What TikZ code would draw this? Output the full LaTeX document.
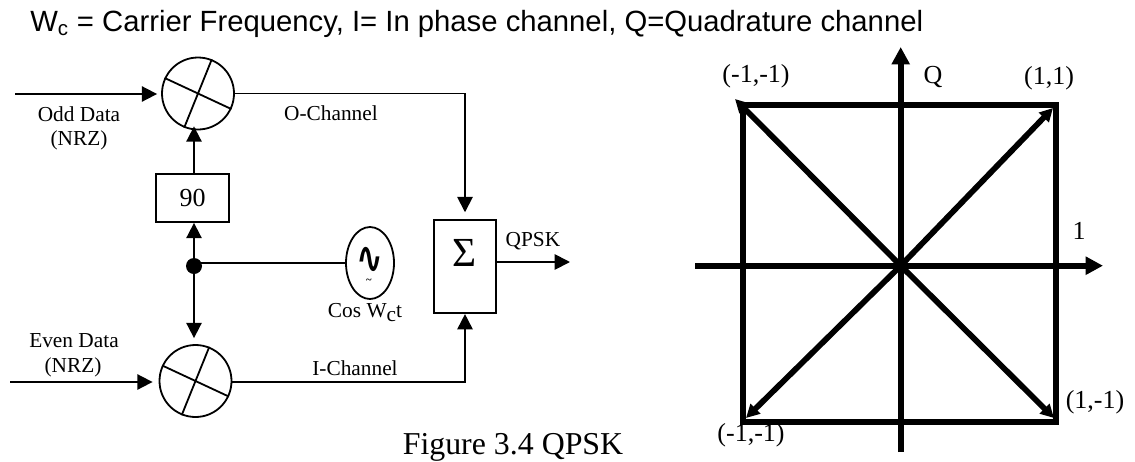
\documentclass[tikz,border=0pt]{standalone}
\usepackage{fontspec}
\setmainfont{Liberation Serif}
\newfontfamily\headfont{Liberation Sans}
\newfontfamily\symfont{DejaVu Sans}
\usetikzlibrary{arrows.meta, shapes.geometric}
\tikzset{
    thinline/.style={line width=1.35pt},
    thickline/.style={line width=4.4pt},
    arrowthin/.style={thinline, -{Triangle[length=11.5pt, width=11.5pt]}},
    arrowthick/.style={thickline, -{Triangle[length=13pt, width=13pt]}},
    arrowdiag/.style={line width=4.3pt, -{Triangle[length=10pt, width=10pt]}},
    mixer/.style={circle, draw=black, thinline, fill=white, inner sep=0pt, minimum size=54pt},
    blockbox/.style={rectangle, draw=black, thinline, inner sep=0pt},
    small/.style={inner sep=0pt, font=\fontsize{16}{19}\selectfont},
    big/.style={inner sep=0pt, font=\fontsize{19.5}{23}\selectfont}
}
\begin{document}
\begin{tikzpicture}[x=0.75pt, y=-0.75pt]
    \useasboundingbox (0, 0) rectangle (1135, 461);

    \node[inner sep=0pt, anchor=base west, font=\headfont\fontsize{21.95}{26}\selectfont] (title) at (30, 31) {W\textsubscript{c} = Carrier Frequency, I= In phase channel, Q=Quadrature channel};

    % left block diagram
    \node[mixer] (mOdd) at (198, 93.5) {};
    \node[mixer] (mEven) at (195.5, 381) {};
    \node[blockbox, minimum width=54.5pt, minimum height=36pt, font=\fontsize{19.5}{23}\selectfont] (shift) at (192.5, 198) {90};
    \node[blockbox, minimum width=46.5pt, minimum height=70pt] (sum) at (465, 266.5) {};
    \node[inner sep=0pt, font=\fontsize{31}{33}\selectfont] (sigma) at (465, 253) {Σ};
    \node[circle, fill=black, inner sep=0pt, minimum size=12pt] (split) at (194, 266) {};
    \node[ellipse, draw=black, thinline, inner sep=0pt, minimum width=36pt, minimum height=54pt] (osc) at (370, 263) {};
    \node[inner sep=0pt, font=\symfont\bfseries\fontsize{24}{26}\selectfont] (wave) at (370, 260.5) {\scalebox{1}[1.4]{∿}};
    \node[inner sep=0pt, font=\bfseries\fontsize{8}{9}\selectfont] (tilde) at (369, 281) {\textasciitilde};

    \coordinate (inOdd) at (15, 94);
    \coordinate (inEven) at (10, 382);
    \coordinate (outSum) at (570, 262);

    \foreach \m in {mOdd, mEven} {
        \draw[thinline] (\m.68) -- (\m.248);
        \draw[thinline] (\m.155) -- (\m.-25);
    }

    \draw[arrowthin, shorten >=3pt] (inOdd) -- (inOdd -| mOdd.west);
    \draw[arrowthin, shorten >=4.5pt] (inEven) -- (inEven -| mEven.west);
    \draw[arrowthin, shorten >=5pt] (mOdd.east) -| (sum.north);
    \draw[arrowthin] (mEven.east |- inEven) -| (sum.south);
    \draw[arrowthin] (sum.east |- outSum) -- (outSum);
    \draw[arrowthin] (split) -- (split |- shift.south);
    \draw[arrowthin, shorten >=-3pt] (split |- shift.north) -- (split |- mOdd.south);
    \draw[arrowthin, shorten >=4.5pt] (split) -- (split |- mEven.north);
    \draw[thinline] (split |- osc.west) -- (osc.west);

    \node[small] (oddA) at (79, 114) {Odd Data};
    \node[small] (oddB) at (79, 140) {(NRZ)};
    \node[small] (evenA) at (74, 341) {Even Data};
    \node[small] (evenB) at (73, 367) {(NRZ)};
    \node[small] (oCh) at (331, 113) {O-Channel};
    \node[small] (iCh) at (355, 368) {I-Channel};
    \node[small] (qpsk) at (533, 241) {QPSK};
    \node[small] (carrier) at (365, 312.5) {Cos W\raisebox{-3pt}{c}t};
    \node[inner sep=0pt, font=\fontsize{23.9}{28}\selectfont] (caption) at (513, 447) {Figure 3.4 QPSK};

    % right constellation
    \coordinate (origin) at (900.7, 265.7);
    \coordinate (axL) at (695, 265.7);
    \coordinate (axR) at (1103, 265.7);
    \coordinate (axB) at (900.7, 452);
    \coordinate (axT) at (900.7, 47);
    \coordinate (ptTL) at (735, 99);
    \coordinate (ptTR) at (1053, 108);
    \coordinate (ptBL) at (746, 418);
    \coordinate (ptBR) at (1054, 418);

    \node[rectangle, draw=black, thickline, inner sep=0pt, minimum width=234.3pt, minimum height=237.8pt] (frame) at (899.5, 263.5) {};
    \draw[arrowthick] (axL) -- (axR);
    \draw[arrowthick] (axB) -- (axT);
    \foreach \p in {ptTL, ptTR, ptBL, ptBR} {
        \draw[arrowdiag] (origin) -- (\p);
    }

    \node[big] (lblTL) at (756, 76) {(-1,-1)};
    \node[big] (lblQ) at (933, 77) {Q};
    \node[big] (lblTR) at (1049, 78) {(1,1)};
    \node[big] (lblOne) at (1079, 231) {1};
    \node[big] (lblBR) at (1095, 402) {(1,-1)};
    \node[big] (lblBL) at (751, 435) {(-1,-1)};
\end{tikzpicture}
\end{document}
